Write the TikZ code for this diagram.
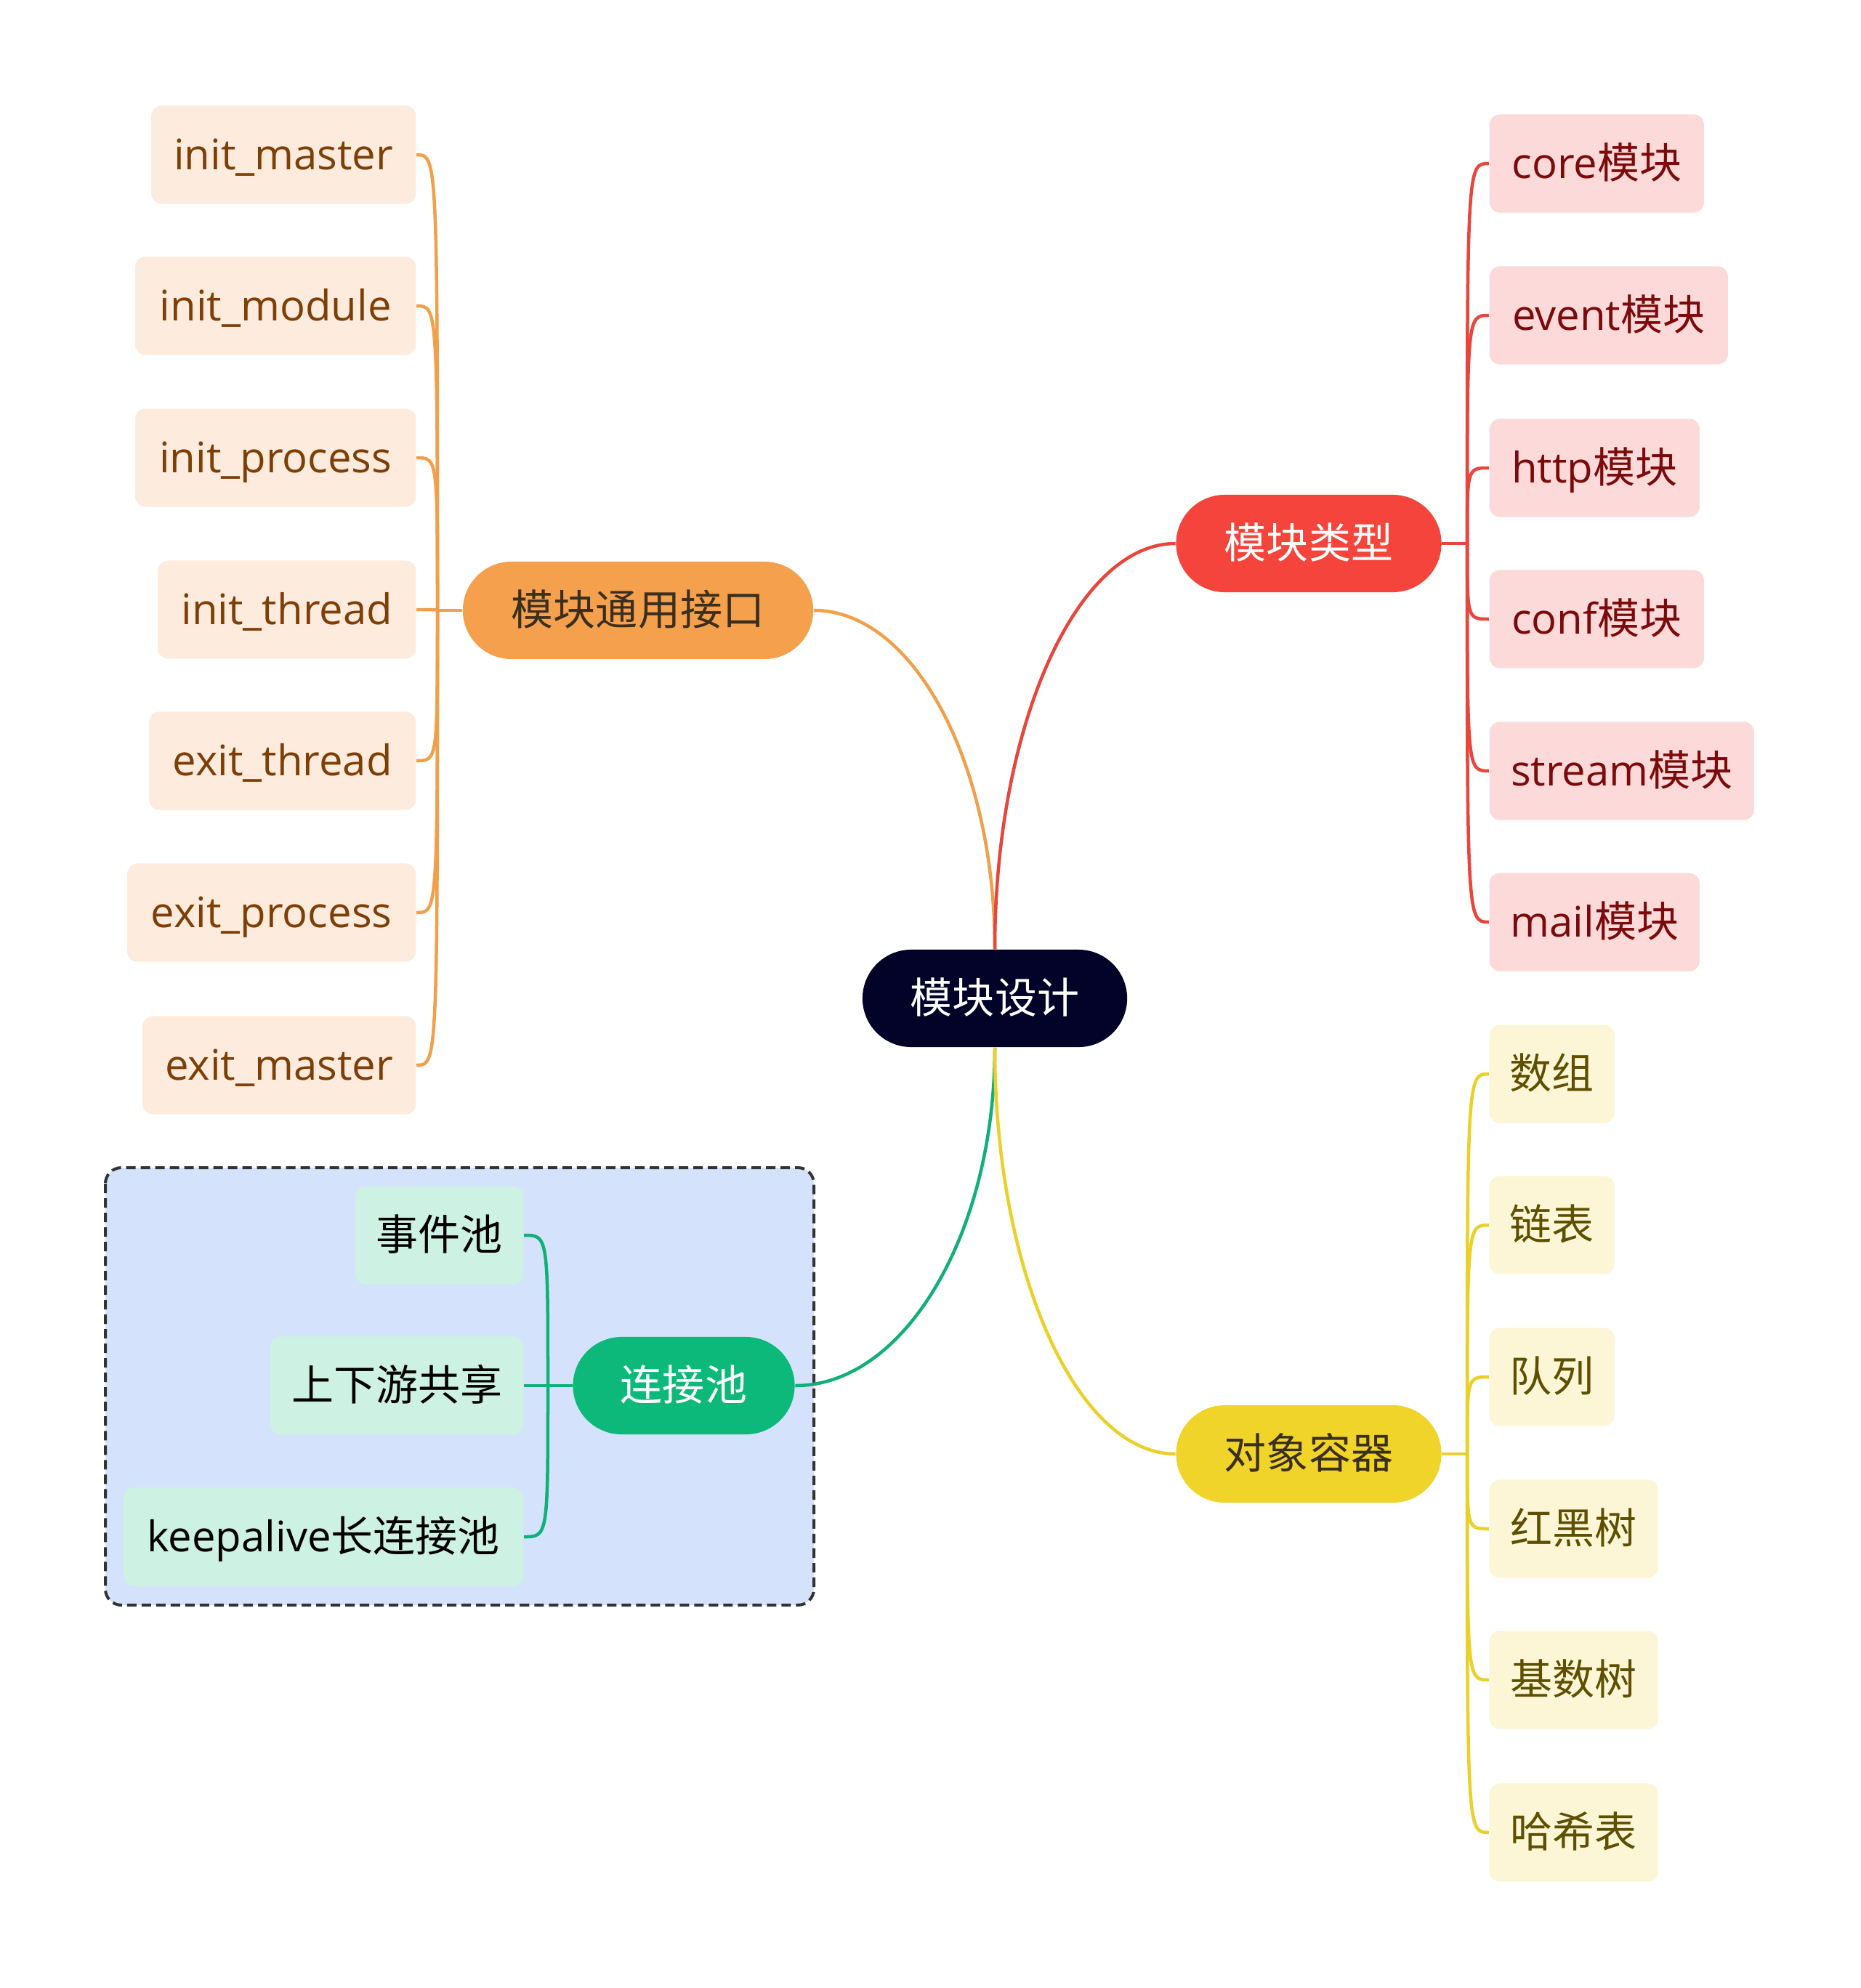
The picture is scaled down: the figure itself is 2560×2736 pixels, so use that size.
\documentclass[tikz,border=0pt]{standalone}
\usepackage{fontspec}
\setmainfont{Open Sans}
\newfontfamily\cjk{Noto Sans CJK SC}
\usetikzlibrary{calc}
\definecolor{rootc}{HTML}{03032A}
\definecolor{oline}{HTML}{F0A04B}
\definecolor{onode}{HTML}{F5A04C}
\definecolor{oleaf}{HTML}{FDEBDD}
\definecolor{otext}{HTML}{7E3F06}
\definecolor{rline}{HTML}{E8453C}
\definecolor{rnode}{HTML}{F5443B}
\definecolor{rleaf}{HTML}{FDDADA}
\definecolor{rtext}{HTML}{7C0A0A}
\definecolor{yline}{HTML}{EBD02A}
\definecolor{ynode}{HTML}{F0D42A}
\definecolor{yleaf}{HTML}{FDF6D6}
\definecolor{ytext}{HTML}{5E5000}
\definecolor{gline}{HTML}{10B077}
\definecolor{gnode}{HTML}{0DB97A}
\definecolor{gleaf}{HTML}{CDF1E3}
\definecolor{boxblue}{HTML}{D4E3FB}
\definecolor{dashgray}{HTML}{333333}
\definecolor{darktext}{HTML}{3A2E1F}
\begin{document}
\begin{tikzpicture}[x=0.01cm,y=-0.01cm,
  every node/.style={font=\fontsize{16.5}{20}\selectfont, inner sep=0pt, text height=0.52cm, text depth=0.12cm},
  mainnode/.style={rounded corners=0.67cm, minimum height=1.34cm},
  leafbox/.style={rounded corners=0.14cm, minimum height=1.35cm},
  conn/.style={line width=0.045cm}
]
\useasboundingbox (0,0) rectangle (2560,2736);

% group box
\draw[dash pattern=on 0.13cm off 0.07cm, rounded corners=0.22cm, fill=boxblue, draw=dashgray, line width=0.04cm] (145,1607) rectangle (1120,2209);

% root and main branches
\node[mainnode, fill=rootc, text=white, minimum width=3.64cm] (root) at (1369,1374) {\cjk 模块设计};
\node[mainnode, fill=onode, text=darktext, minimum width=4.82cm] (gen) at (878,840) {\cjk 模块通用接口};
\node[mainnode, fill=rnode, text=white, minimum width=3.65cm] (typ) at (1801,748) {\cjk 模块类型};
\node[mainnode, fill=ynode, text=darktext, minimum width=3.65cm] (obj) at (1801,2001) {\cjk 对象容器};
\node[mainnode, fill=gnode, text=white, minimum width=3.05cm] (pool) at (941,1907) {\cjk 连接池};

% orange leaves
\begin{scope}[every node/.append style={leafbox, fill=oleaf, text=otext, anchor=east}]
\node[minimum width=3.64cm] (o1) at (573,213) {init\_master};
\node[minimum width=3.86cm] (o2) at (573,421) {init\_module};
\node[minimum width=3.86cm] (o3) at (573,630) {init\_process};
\node[minimum width=3.55cm] (o4) at (573,839) {init\_thread};
\node[minimum width=3.67cm] (o5) at (573,1047) {exit\_thread};
\node[minimum width=3.97cm] (o6) at (573,1256) {exit\_process};
\node[minimum width=3.76cm] (o7) at (573,1466) {exit\_master};
\end{scope}

% red leaves
\begin{scope}[every node/.append style={leafbox, fill=rleaf, text=rtext, anchor=west}]
\node[minimum width=2.95cm] (r1) at (2049,225) {core{\cjk 模块}};
\node[minimum width=3.28cm] (r2) at (2049,434) {event{\cjk 模块}};
\node[minimum width=2.89cm] (r3) at (2049,644) {http{\cjk 模块}};
\node[minimum width=2.95cm] (r4) at (2049,852) {conf{\cjk 模块}};
\node[minimum width=3.64cm] (r5) at (2049,1061) {stream{\cjk 模块}};
\node[minimum width=2.89cm] (r6) at (2049,1269) {mail{\cjk 模块}};
\end{scope}

% yellow leaves
\begin{scope}[every node/.append style={leafbox, fill=yleaf, text=ytext, anchor=west, font=\fontsize{16.5}{20}\selectfont\cjk}]
\node[minimum width=1.72cm] (y1) at (2049,1478) {数组};
\node[minimum width=1.72cm] (y2) at (2049,1686) {链表};
\node[minimum width=1.72cm] (y3) at (2049,1895) {队列};
\node[minimum width=2.32cm] (y4) at (2049,2104) {红黑树};
\node[minimum width=2.32cm] (y5) at (2049,2312) {基数树};
\node[minimum width=2.32cm] (y6) at (2049,2522) {哈希表};
\end{scope}

% green leaves
\begin{scope}[every node/.append style={leafbox, fill=gleaf, text=black, anchor=east}]
\node[minimum width=2.31cm] (g1) at (721,1700) {\cjk 事件池};
\node[minimum width=3.48cm] (g2) at (721,1907) {\cjk 上下游共享};
\node[minimum width=5.50cm] (g3) at (721,2115) {keepalive{\cjk 长连接池}};
\end{scope}

% root connectors
\draw[conn, draw=oline] (gen.east) .. controls (1257,840) and (1369,1050) .. (root.north);
\draw[conn, draw=rline] (root.north) .. controls (1369,1000) and (1481,748) .. (typ.west);
\draw[conn, draw=gline] (root.south) .. controls (1369,1697) and (1245,1907) .. (pool.east);
\draw[conn, draw=yline] (root.south) .. controls (1369,1749) and (1481,2001) .. (obj.west);

% orange branch
\coordinate (os) at (602,840);
\draw[conn, draw=oline] (gen.west) -- (os);
\foreach \c in {o1,o2,o3,o4,o5,o6,o7}
  \draw[conn, draw=oline] (os) .. controls (os |- \c.east) and (os |- \c.east) .. (\c.east);

% red branch
\coordinate (rs) at (2019,748);
\draw[conn, draw=rline] (typ.east) -- (rs);
\foreach \c in {r1,r2,r3,r4,r5,r6}
  \draw[conn, draw=rline] (rs) .. controls (rs |- \c.west) and (rs |- \c.west) .. (\c.west);

% yellow branch
\coordinate (ys) at (2019,2001);
\draw[conn, draw=yline] (obj.east) -- (ys);
\foreach \c in {y1,y2,y3,y4,y5,y6}
  \draw[conn, draw=yline] (ys) .. controls (ys |- \c.west) and (ys |- \c.west) .. (\c.west);

% green branch
\coordinate (gs) at (754,1907);
\draw[conn, draw=gline] (pool.west) -- (gs);
\foreach \c in {g1,g2,g3}
  \draw[conn, draw=gline] (gs) .. controls (gs |- \c.east) and (gs |- \c.east) .. (\c.east);
\end{tikzpicture}
\end{document}
